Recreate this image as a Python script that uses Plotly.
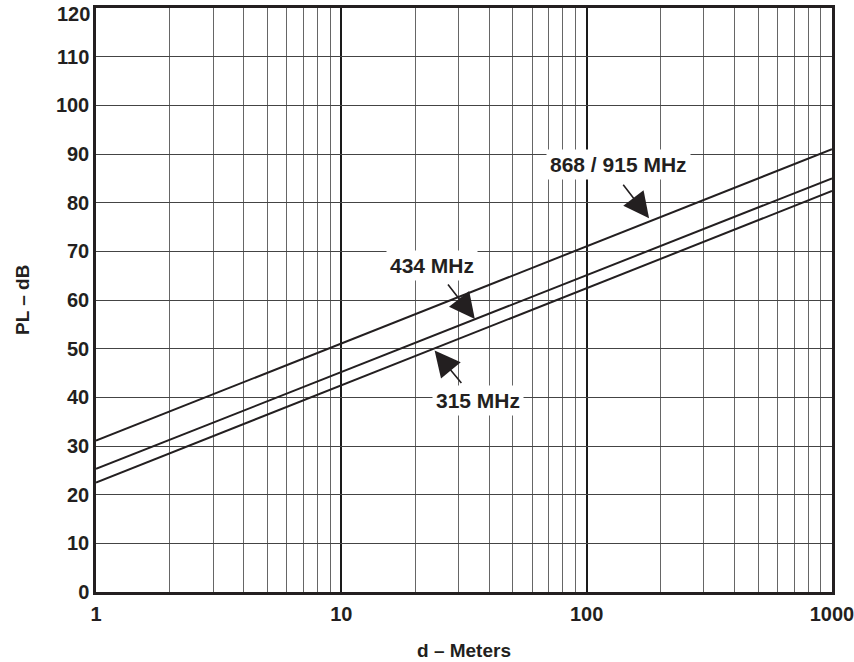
import math
import plotly.graph_objects as go

# Data
distance_m = [1, 10, 100, 1000]
pl_868_915 = [31.1, 51.1, 71.0, 91.0]
pl_434 = [25.3, 45.2, 65.1, 85.0]
pl_315 = [22.5, 42.5, 62.4, 82.4]

y_ticks = list(range(0, 111, 10))
y_top_label = "120"
x_ticks = [1, 10, 100, 1000]
x_tick_labels = ["1", "10", "100", "1000"]
minor_x = [m * 10 ** k for k in range(3) for m in range(2, 10)]

INK = "#231f20"
FONT = "Liberation Sans, Arial, sans-serif"

fig = go.Figure()
for name, vals in [("868 / 915 MHz", pl_868_915), ("434 MHz", pl_434), ("315 MHz", pl_315)]:
    fig.add_trace(go.Scatter(x=distance_m, y=vals, mode="lines", name=name,
                             line=dict(color=INK, width=2), showlegend=False))

labels = [
    dict(text="868 / 915 MHz", x=134.5, y=87.9),
    dict(text="434 MHz", x=23.4, y=67.0),
    dict(text="315 MHz", x=35.9, y=39.4),
]
arrows = [
    dict(x=179.6, y=76.8, ax=-27, ay=-35),
    dict(x=35.0, y=56.1, ax=-28, ay=-36),
    dict(x=24.0, y=49.6, ax=28, ay=34),
]
annotations = []
for a in arrows:
    annotations.append(dict(x=math.log10(a["x"]), y=a["y"], xref="x", yref="y",
                            ax=a["ax"], ay=a["ay"], text="", showarrow=True,
                            arrowhead=2, arrowsize=3.2, arrowwidth=1.6, arrowcolor=INK,
                            standoff=0))
for l in labels:
    annotations.append(dict(x=math.log10(l["x"]), y=l["y"], xref="x", yref="y",
                            text=l["text"], showarrow=False, bgcolor="white",
                            borderpad=3,
                            font=dict(family=FONT, size=21, color=INK, weight="bold")))

# top y tick label (kept inside the page)
annotations.append(dict(text=y_top_label, xref="paper", yref="y", x=0, y=120,
                        xanchor="right", yanchor="middle", xshift=-4, yshift=-6,
                        showarrow=False,
                        font=dict(family=FONT, size=20, color=INK, weight="bold")))

# axis titles
annotations.append(dict(text="d – Meters", xref="paper", yref="paper", x=0.5, y=0,
                        yshift=-58, xanchor="center", yanchor="middle", showarrow=False,
                        font=dict(family=FONT, size=19, color=INK, weight="bold")))
annotations.append(dict(text="PL – dB", xref="paper", yref="paper", x=0, y=0.5,
                        xshift=-74, xanchor="center", yanchor="middle", showarrow=False,
                        textangle=-90,
                        font=dict(family=FONT, size=19, color=INK, weight="bold")))

fig.update_layout(
    width=854, height=662,
    margin=dict(l=96, r=22, t=8, b=70),
    paper_bgcolor="white", plot_bgcolor="white",
    annotations=annotations,
    font=dict(family=FONT, color=INK),
    xaxis=dict(
        type="log", range=[0, 3], automargin=False,
        tickmode="array", tickvals=x_ticks, ticktext=x_tick_labels,
        tickfont=dict(family=FONT, size=20, color=INK, weight="bold"),
        ticklabeloverflow="allow",
        showgrid=True, gridcolor="#1a1a1a", gridwidth=1.5,
        minor=dict(tickmode="array", tickvals=minor_x, showgrid=True,
                   gridcolor="#666666", gridwidth=1.2, ticks=""),
        showline=True, linecolor=INK, linewidth=2.5, mirror=True,
        ticks="", ticklabelstandoff=2,
        zeroline=False,
    ),
    yaxis=dict(
        range=[0, 120], automargin=False,
        tickmode="array", tickvals=y_ticks,
        tickfont=dict(family=FONT, size=20, color=INK, weight="bold"),
        ticklabeloverflow="allow",
        showgrid=True, gridcolor="#444444", gridwidth=1.3,
        showline=True, linecolor=INK, linewidth=2.5, mirror=True,
        ticks="", ticklabelstandoff=0,
        zeroline=False,
    ),
)

fig.write_html("out.html", config={"displayModeBar": False},
               post_script="document.body.style.margin='0';document.documentElement.style.margin='0';")
